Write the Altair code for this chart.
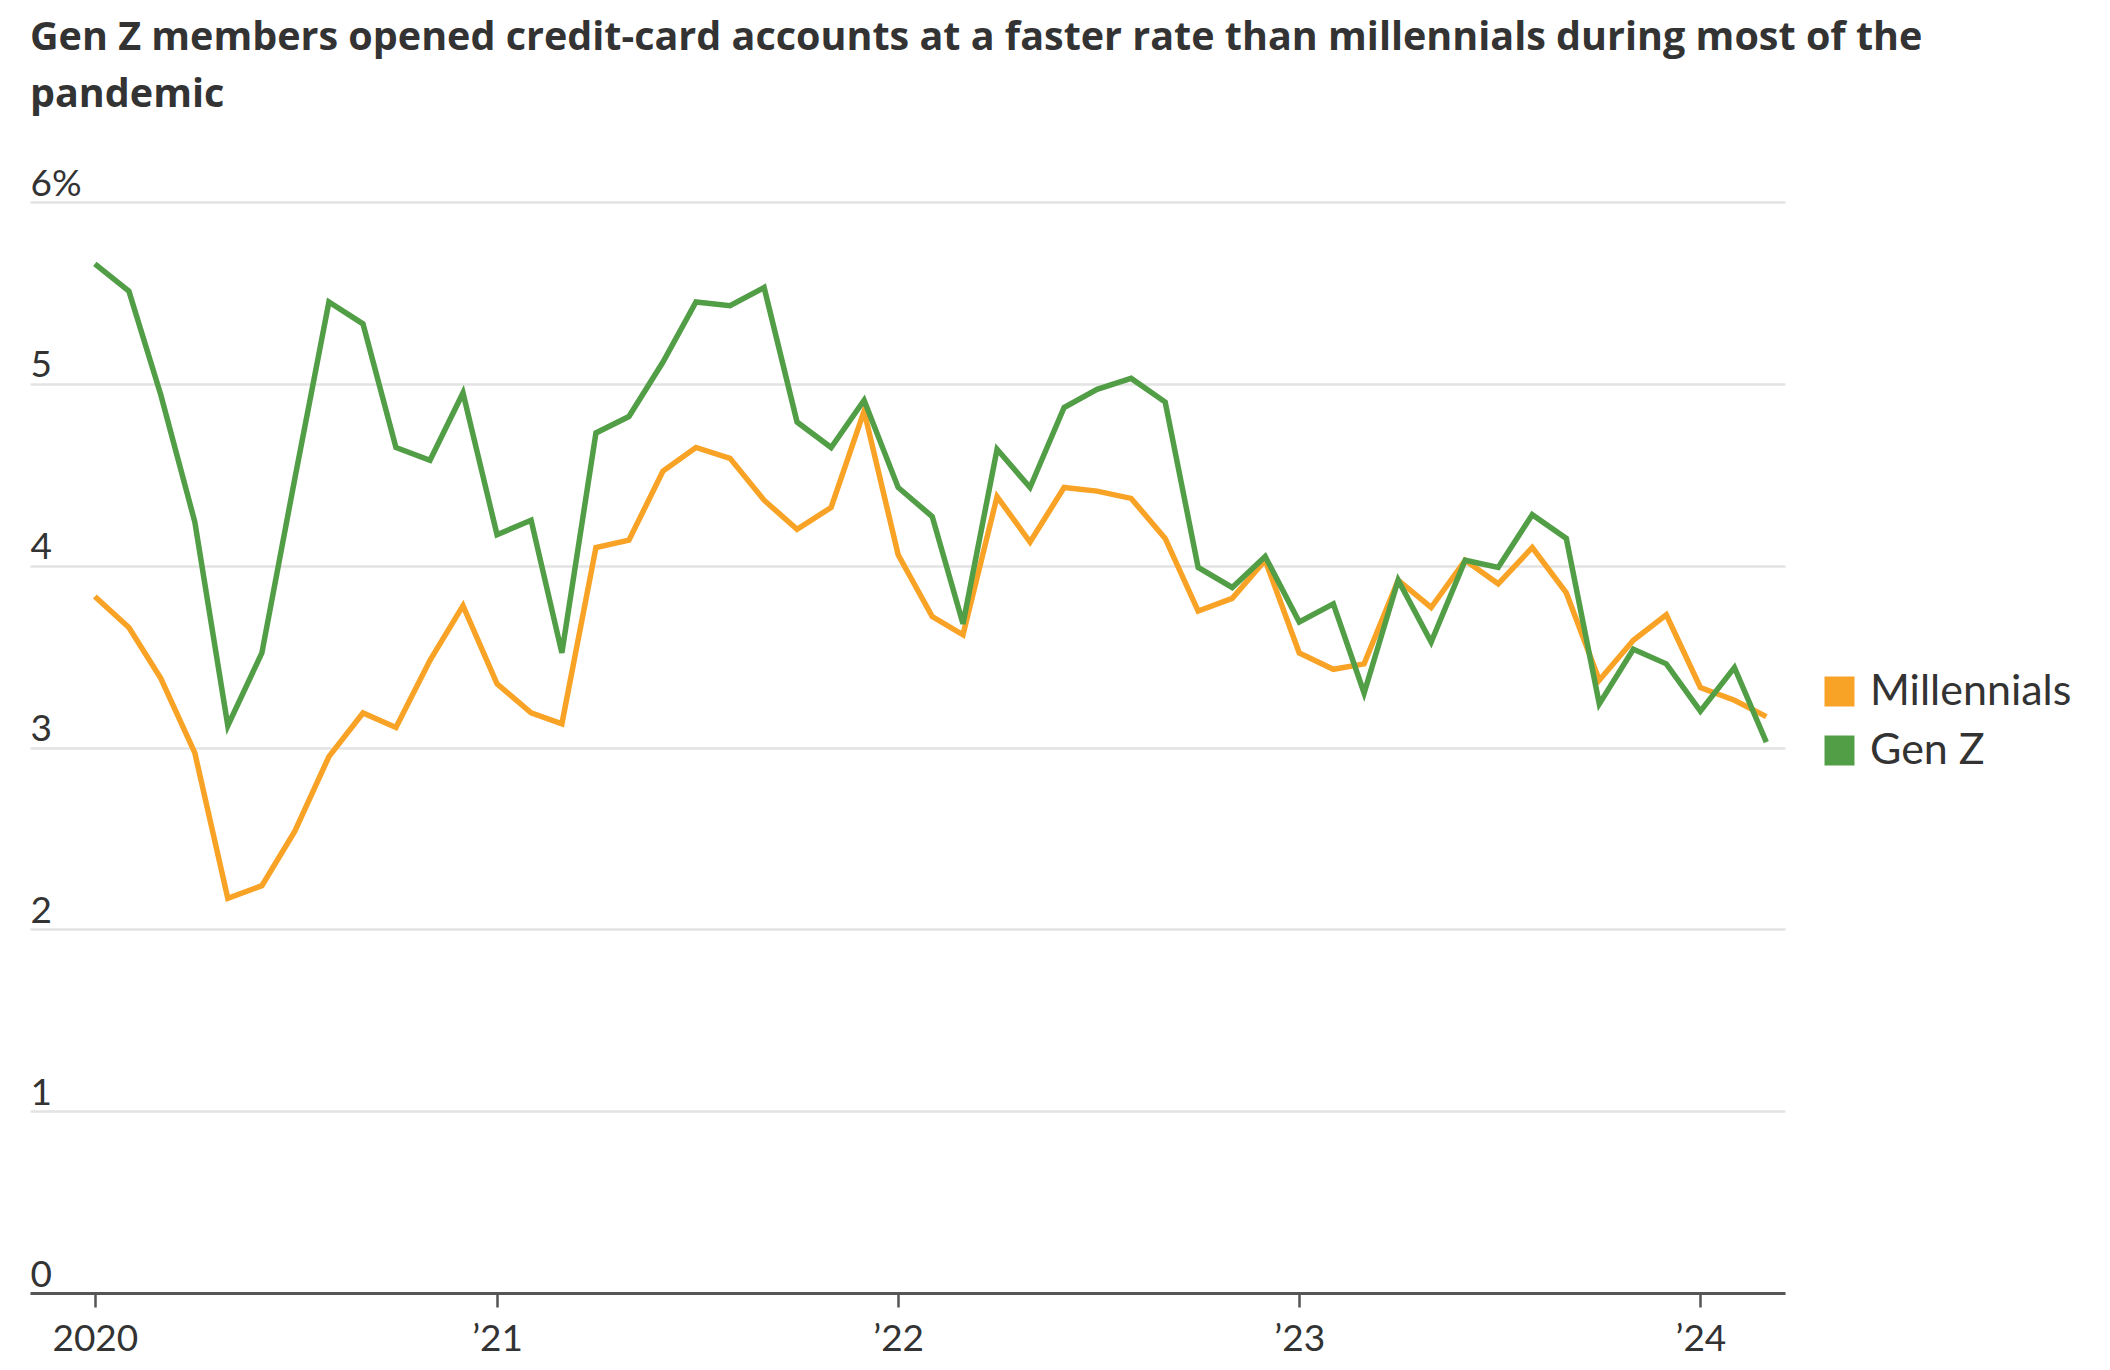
import altair as alt
import pandas as pd

months = pd.date_range("2020-01-01", "2024-03-01", freq="MS").strftime("%Y-%m-%d").tolist()

millennials = [
    3.83, 3.66, 3.38, 2.97, 2.17, 2.24, 2.54, 2.95, 3.19, 3.11, 3.48, 3.78,
    3.35, 3.19, 3.13, 4.10, 4.14, 4.52, 4.65, 4.59, 4.36, 4.20, 4.32, 4.85,
    4.06, 3.72, 3.62, 4.38, 4.13, 4.43, 4.41, 4.37, 4.15, 3.75, 3.82, 4.03,
    3.52, 3.43, 3.46, 3.92, 3.77, 4.03, 3.90, 4.10, 3.85, 3.37, 3.59, 3.73,
    3.33, 3.26, 3.17,
]
gen_z = [
    5.66, 5.51, 4.94, 4.24, 3.12, 3.52, 4.48, 5.45, 5.33, 4.65, 4.58, 4.95,
    4.17, 4.25, 3.52, 4.73, 4.82, 5.12, 5.45, 5.43, 5.53, 4.79, 4.65, 4.91,
    4.43, 4.27, 3.68, 4.64, 4.43, 4.87, 4.97, 5.03, 4.90, 3.99, 3.88, 4.05,
    3.69, 3.79, 3.30, 3.92, 3.58, 4.03, 3.99, 4.28, 4.15, 3.24, 3.54, 3.46,
    3.20, 3.44, 3.03,
]
series_names = ["Millennials", "Gen Z"]
series_colors = ["#f9a326", "#529e46"]
y_ticks = [0, 1, 2, 3, 4, 5, 6]
x_tick_years = [2020, 2021, 2022, 2023, 2024]
title_lines = [
    "Gen Z members opened credit-card accounts at a faster rate than millennials during most of the",
    "pandemic",
]

rows = []
for name, vals in zip(series_names, [millennials, gen_z]):
    for m, v in zip(months, vals):
        rows.append({"month": m, "value": v, "group": name})
df = pd.DataFrame(rows)

x_scale = alt.Scale(
    type="utc",
    domain=[
        alt.DateTime(year=2019, month=11, date=3, utc=True),
        alt.DateTime(year=2024, month=3, date=18, utc=True),
    ],
)
y_scale = alt.Scale(domain=[0, 6], nice=False, zero=True)
color_scale = alt.Scale(domain=series_names, range=series_colors)

x_axis = alt.Axis(
    values=[alt.DateTime(year=y, month=1, date=1, utc=True) for y in x_tick_years],
    labelExpr="utcFormat(datum.value, '%Y') == '2020' ? '2020' : '\u2019' + utcFormat(datum.value, '%y')",
    grid=False,
    domain=True,
    domainColor="#555555",
    domainWidth=3,
    ticks=True,
    tickColor="#555555",
    tickWidth=2.5,
    tickSize=14,
    labelFont="Lato",
    labelFontSize=37,
    labelColor="#333333",
    labelPadding=14,
    labelFlush=False,
    title=None,
)

y_axis = alt.Axis(
    values=y_ticks,
    labelExpr="datum.value == 6 ? '6%' : format(datum.value, 'd')",
    grid=True,
    gridColor="#e3e3e3",
    gridWidth=2.5,
    domain=False,
    ticks=False,
    tickSize=0,
    labelAlign="left",
    labelBaseline="alphabetic",
    labelOffset=-7,
    labelPadding=0,
    labelFont="Lato",
    labelFontSize=37,
    labelColor="#333333",
    title=None,
)

legend = alt.Legend(
    title=None,
    orient="none",
    legendX=1788,
    legendY=468,
    symbolType="square",
    symbolSize=225,
    symbolStrokeWidth=15,
    labelFont="Lato",
    labelFontSize=43,
    labelColor="#333333",
    labelOffset=9,
    labelLimit=500,
    rowPadding=-16,
)

chart = (
    alt.Chart(df)
    .mark_line(strokeWidth=5.5, strokeJoin="miter")
    .encode(
        x=alt.X("month:T", scale=x_scale, axis=x_axis),
        y=alt.Y("value:Q", scale=y_scale, axis=y_axis),
        color=alt.Color("group:N", scale=color_scale, legend=legend),
        detail="group:N",
    )
    .properties(
        width=1755,
        height=1091,
        background="white",
        title=alt.TitleParams(
            text=title_lines,
            anchor="start",
            frame="group",
            font="Open Sans",
            fontSize=39.5,
            fontWeight="bold",
            color="#333333",
            lineHeight=57,
            offset=50,
        ),
        autosize=alt.AutoSizeParams(type="none"),
        padding={"left": 22, "top": 194, "right": 317, "bottom": 69},
    )
    .configure_view(strokeWidth=0)
)

chart.save("out.html", embed_options={"renderer": "svg", "actions": False})
